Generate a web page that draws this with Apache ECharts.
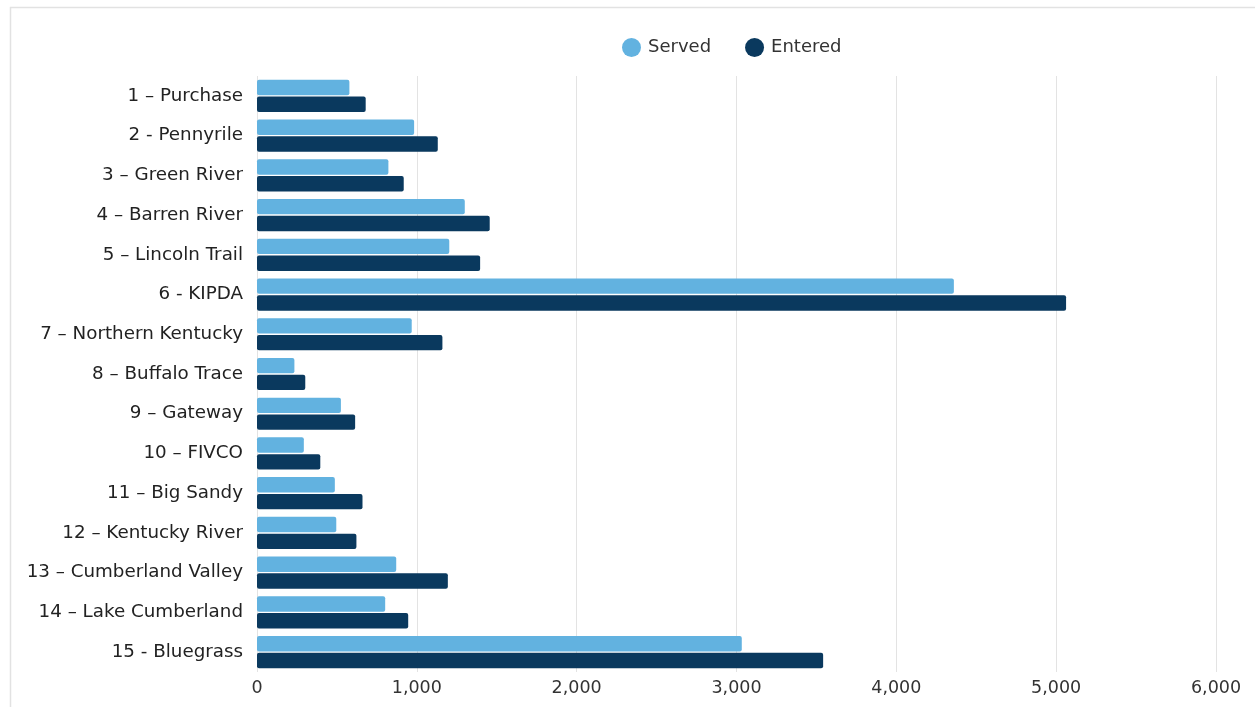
<!DOCTYPE html>
<html>
<head>
<meta charset="utf-8">
<script src="https://cdn.jsdelivr.net/npm/echarts@6/dist/echarts.min.js"></script>
<style>
  html, body { margin: 0; padding: 0; background: #ffffff; overflow: hidden; width: 1255px; height: 707px; }
  #chart { position: absolute; left: 0; top: 0; width: 1255px; height: 707px; }
</style>
</head>
<body>
<div id="chart"></div>
<script>
const categories = [
  "1 – Purchase", "2 - Pennyrile", "3 – Green River", "4 – Barren River",
  "5 – Lincoln Trail", "6 - KIPDA", "7 – Northern Kentucky", "8 – Buffalo Trace",
  "9 – Gateway", "10 – FIVCO", "11 – Big Sandy", "12 – Kentucky River",
  "13 – Cumberland Valley", "14 – Lake Cumberland", "15 - Bluegrass"
];
const served  = [578, 983, 822, 1300, 1203, 4360, 968, 234, 525, 293, 487, 496, 871, 802, 3033];
const entered = [680, 1131, 918, 1456, 1396, 5062, 1160, 302, 614, 396, 660, 622, 1194, 946, 3542];
const xTicks = [0, 1000, 2000, 3000, 4000, 5000, 6000];

const FONT = "DejaVu Sans";
const chart = echarts.init(document.getElementById('chart'), null, { renderer: 'canvas' });
chart.setOption({
  animation: false,
  backgroundColor: '#ffffff',
  textStyle: { fontFamily: FONT },
  graphic: [
    {
      type: 'polyline', silent: true,
      shape: { points: [[10.5, 720], [10.5, 7.5], [1260, 7.5]] },
      style: { stroke: '#e2e2e2', lineWidth: 1.5, fill: null }
    }
  ],
  legend: {
    data: ['Served', 'Entered'],
    top: 33,
    left: 617,
    icon: 'circle',
    itemWidth: 19,
    itemHeight: 19,
    itemGap: 34,
    textStyle: { fontFamily: FONT, fontSize: 18, color: '#333333', padding: [0, 0, 0, 2] }
  },
  grid: { left: 257, right: 39, top: 76, bottom: 35, containLabel: false },
  xAxis: {
    type: 'value',
    min: xTicks[0],
    max: xTicks[xTicks.length - 1],
    interval: 1000,
    axisLine: { show: false },
    axisTick: { show: false },
    splitLine: { show: true, lineStyle: { color: '#e3e3e3', width: 1 } },
    axisLabel: {
      fontFamily: FONT, fontSize: 17.5, color: '#333333', margin: 7,
      formatter: v => v.toLocaleString('en-US')
    }
  },
  yAxis: {
    type: 'category',
    data: categories,
    inverse: true,
    axisLine: { show: false },
    axisTick: { show: false },
    axisLabel: { fontFamily: FONT, fontSize: 18.3, color: '#222222', margin: 14 }
  },
  series: [
    {
      name: 'Served', type: 'bar', data: served,
      barCategoryGap: '19%', barGap: '9%',
      itemStyle: { color: '#62b2e0', borderRadius: 2 }
    },
    {
      name: 'Entered', type: 'bar', data: entered,
      barCategoryGap: '19%', barGap: '9%',
      itemStyle: { color: '#0a395e', borderRadius: 2 }
    }
  ]
});
</script>
</body>
</html>
